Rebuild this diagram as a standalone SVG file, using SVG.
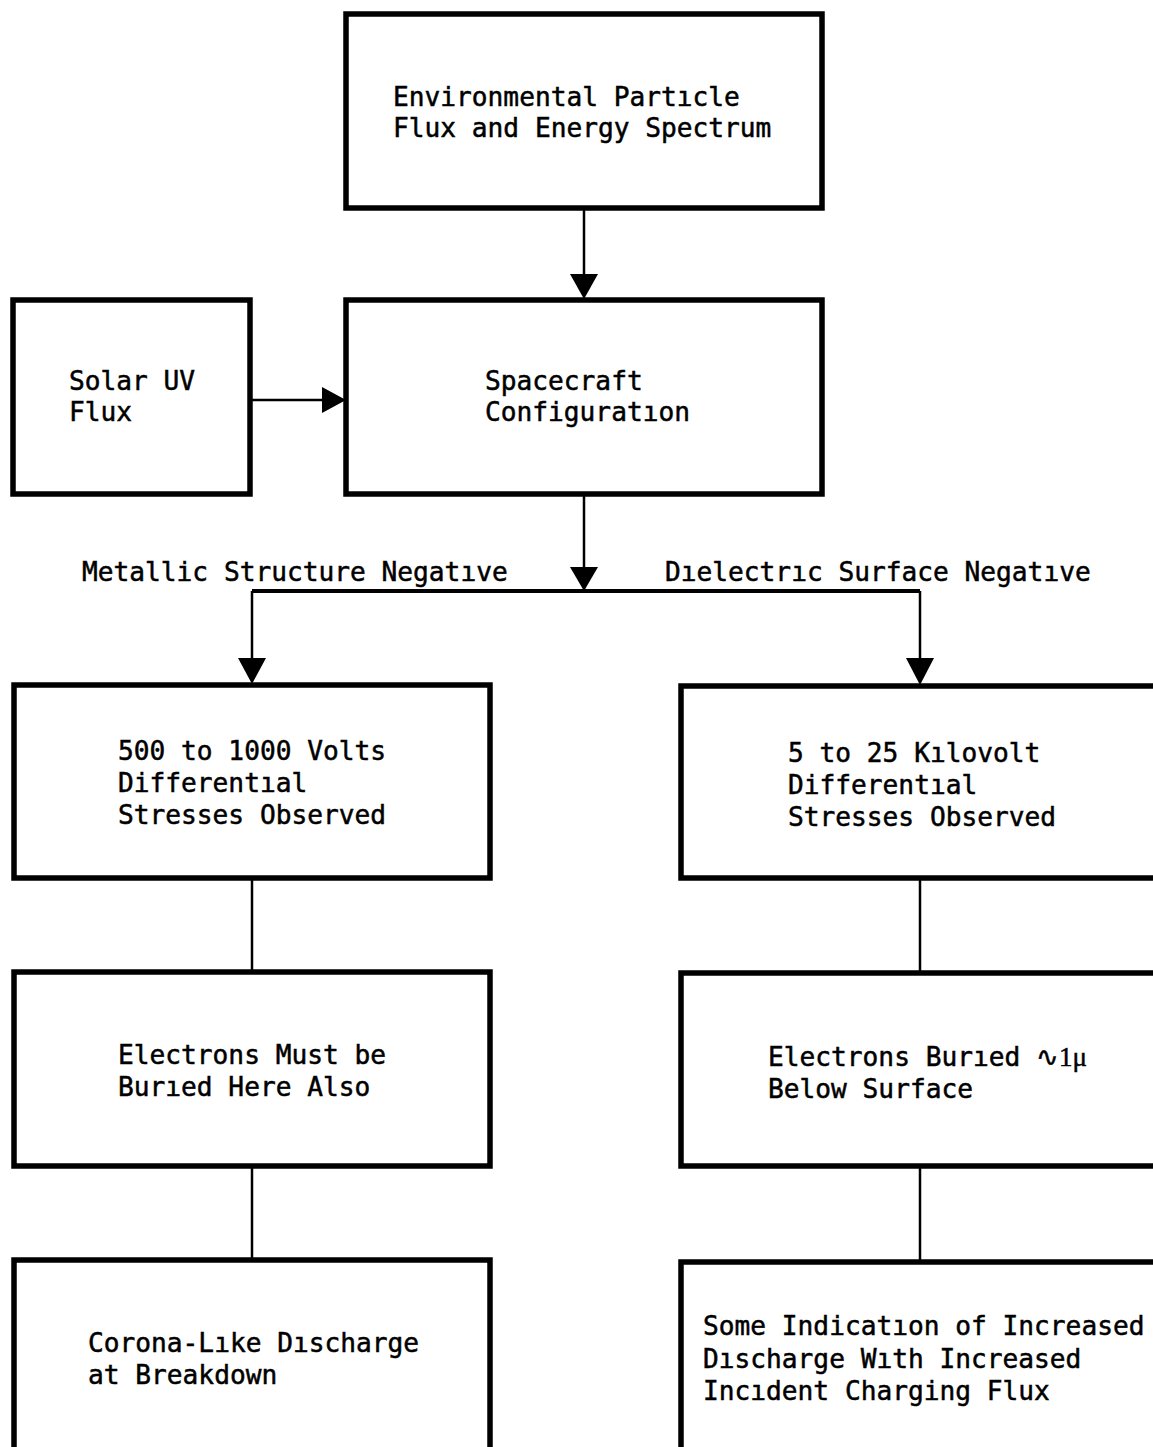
<svg xmlns="http://www.w3.org/2000/svg" width="1153" height="1447" viewBox="0 0 1153 1447">
<style>
.box{fill:#fff;stroke:#000;stroke-width:5.5;stroke-linejoin:miter}
.ln{fill:none;stroke:#000;stroke-width:2.5}
.ah{fill:#000;stroke:none}
text{font-family:"DejaVu Sans Mono","Liberation Mono",monospace;font-size:26.2px;fill:#000;stroke:#000;stroke-width:0.5}
.mu{font-family:"Liberation Serif",serif;font-size:27px}
</style>
<rect width="1153" height="1447" fill="#fff"/>
<g id="connectors">
<line class="ln" x1="584" y1="210" x2="584" y2="280"/>
<polygon class="ah" points="570,274 598,274 584,299"/>
<line class="ln" x1="250" y1="400" x2="326" y2="400"/>
<polygon class="ah" points="322,387 322,413 346,400"/>
<line class="ln" x1="584" y1="496" x2="584" y2="572"/>
<polygon class="ah" points="570,567 598,567 584,591"/>
<line class="ln" x1="252" y1="591" x2="920" y2="591" style="stroke-width:4"/>
<line class="ln" x1="252" y1="591" x2="252" y2="662"/>
<polygon class="ah" points="238,658 266,658 252,684"/>
<line class="ln" x1="920" y1="591" x2="920" y2="662"/>
<polygon class="ah" points="906,658 934,658 920,685"/>
<line class="ln" x1="252" y1="878" x2="252" y2="972"/>
<line class="ln" x1="920" y1="878" x2="920" y2="973"/>
<line class="ln" x1="252" y1="1166" x2="252" y2="1260"/>
<line class="ln" x1="920" y1="1166" x2="920" y2="1262"/>
</g>
<g id="n-environment">
<rect class="box" x="346" y="14" width="476" height="194"/>
<text x="393" y="106">Environmental Partıcle</text>
<text x="393" y="137">Flux and Energy Spectrum</text>
</g>
<g id="n-solaruv">
<rect class="box" x="13" y="300" width="237" height="194"/>
<text x="69" y="390">Solar UV</text>
<text x="69" y="421">Flux</text>
</g>
<g id="n-spacecraft">
<rect class="box" x="346" y="300" width="476" height="194"/>
<text x="485" y="390">Spacecraft</text>
<text x="485" y="421">Configuratıon</text>
</g>
<g id="labels">
<text x="82" y="581">Metallic Structure Negatıve</text>
<text x="665" y="581">Dıelectrıc Surface Negatıve</text>
</g>
<g id="n-500v">
<rect class="box" x="14" y="685" width="476" height="193"/>
<text x="118" y="760">500 to 1000 Volts</text>
<text x="118" y="792">Differentıal</text>
<text x="118" y="824">Stresses Observed</text>
</g>
<g id="n-5kv">
<rect class="box" x="681" y="686" width="480" height="192"/>
<text x="788" y="762">5 to 25 Kılovolt</text>
<text x="788" y="794">Differentıal</text>
<text x="788" y="826">Stresses Observed</text>
</g>
<g id="n-electrons-left">
<rect class="box" x="14" y="972" width="476" height="194"/>
<text x="118" y="1064">Electrons Must be</text>
<text x="118" y="1096">Burıed Here Also</text>
</g>
<g id="n-electrons-right">
<rect class="box" x="681" y="973" width="480" height="193"/>
<text x="768" y="1066">Electrons Burıed <tspan class="mu">∿1μ</tspan></text>
<text x="768" y="1098">Below Surface</text>
</g>
<g id="n-corona">
<rect class="box" x="14" y="1260" width="476" height="200"/>
<text x="88" y="1352">Corona-Lıke Dıscharge</text>
<text x="88" y="1384">at Breakdown</text>
</g>
<g id="n-indication">
<rect class="box" x="681" y="1262" width="480" height="200"/>
<text x="703" y="1335">Some Indicatıon of Increased</text>
<text x="703" y="1368">Dıscharge Wıth Increased</text>
<text x="703" y="1400">Incıdent Charging Flux</text>
</g>
</svg>
